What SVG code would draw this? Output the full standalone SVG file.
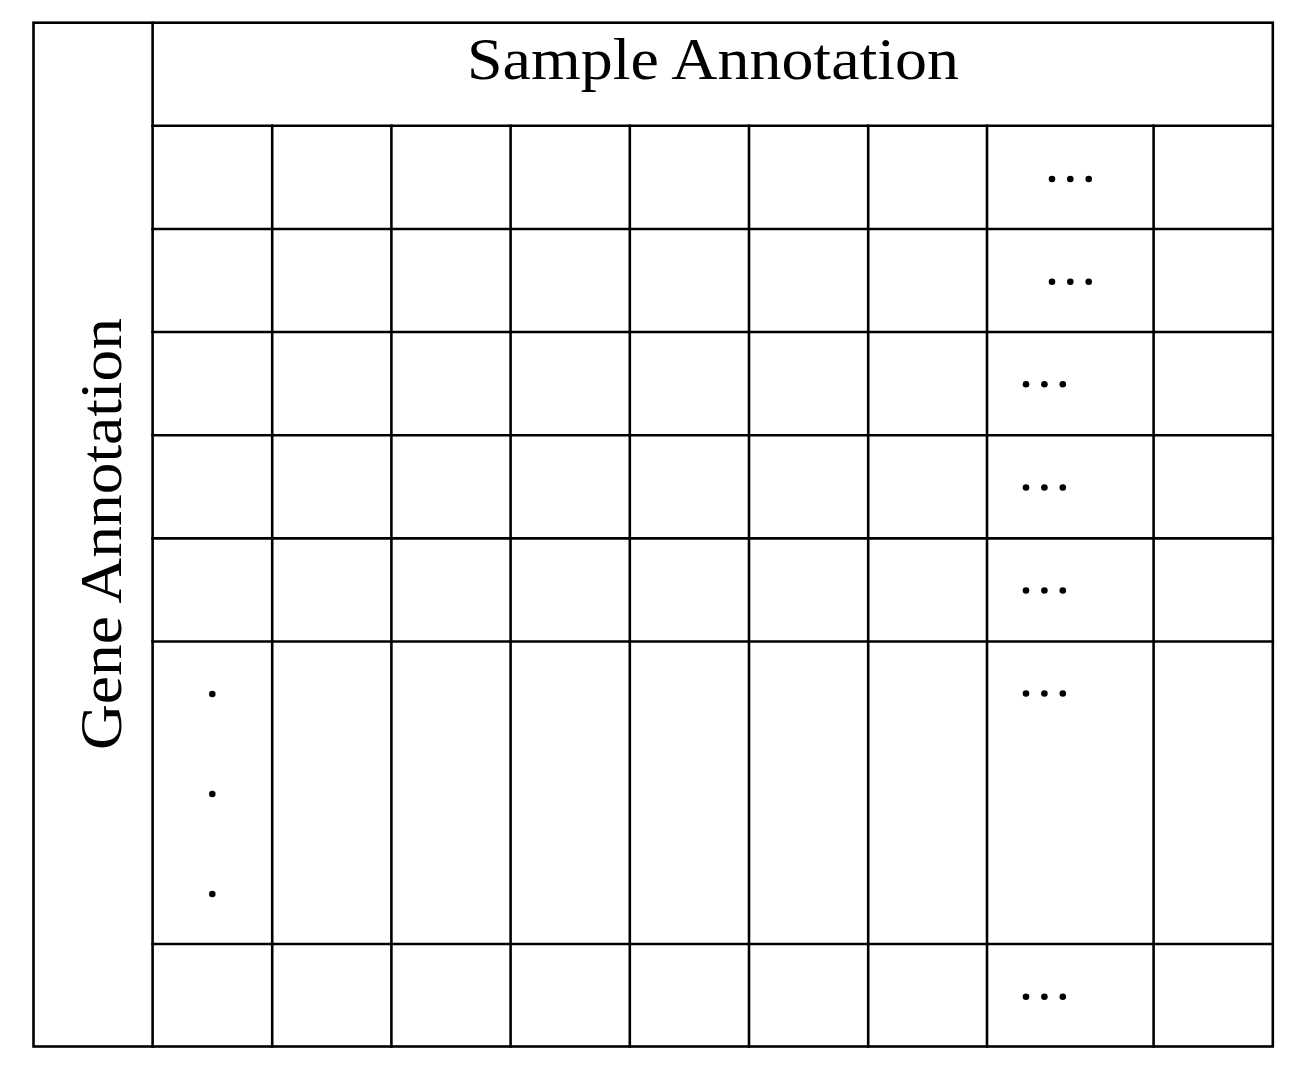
<svg xmlns="http://www.w3.org/2000/svg" width="1294" height="1069" viewBox="0 0 1294 1069">
<style>
.ln{stroke:#000;stroke-width:2.6;fill:none;stroke-linecap:square}
.lbl{font-family:"Liberation Serif","DejaVu Serif",serif;font-size:60px;fill:#000}
.dot{fill:#000}
</style>
<rect width="1294" height="1069" fill="#fff"/>
<g id="frame">
<rect class="ln" x="33.5" y="22.7" width="1239.3" height="1023.8"/>
</g>
<g id="gene-annotation">
<line class="ln" x1="152.6" y1="22.7" x2="152.6" y2="1046.5"/>
<text class="lbl" transform="translate(121,750) rotate(-90)" x="0" y="0" textLength="432" lengthAdjust="spacingAndGlyphs">Gene Annotation</text>
</g>
<g id="sample-annotation">
<line class="ln" x1="152.6" y1="125.7" x2="1272.8" y2="125.7"/>
<text class="lbl" x="467" y="79" textLength="492" lengthAdjust="spacingAndGlyphs">Sample Annotation</text>
</g>
<g id="grid">
<g class="ln">
<line x1="152.6" y1="229" x2="1272.8" y2="229"/>
<line x1="152.6" y1="332" x2="1272.8" y2="332"/>
<line x1="152.6" y1="435.2" x2="1272.8" y2="435.2"/>
<line x1="152.6" y1="538.4" x2="1272.8" y2="538.4"/>
<line x1="152.6" y1="641.5" x2="1272.8" y2="641.5"/>
<line x1="152.6" y1="944" x2="1272.8" y2="944"/>
<line x1="272.2" y1="125.7" x2="272.2" y2="1046.5"/>
<line x1="391.4" y1="125.7" x2="391.4" y2="1046.5"/>
<line x1="510.6" y1="125.7" x2="510.6" y2="1046.5"/>
<line x1="629.8" y1="125.7" x2="629.8" y2="1046.5"/>
<line x1="749" y1="125.7" x2="749" y2="1046.5"/>
<line x1="868.2" y1="125.7" x2="868.2" y2="1046.5"/>
<line x1="987" y1="125.7" x2="987" y2="1046.5"/>
<line x1="1153.6" y1="125.7" x2="1153.6" y2="1046.5"/>
</g>
</g>
<g id="ellipses">
<circle class="dot" cx="1052" cy="179" r="3.3"/><circle class="dot" cx="1070.3" cy="179" r="3.3"/><circle class="dot" cx="1088.7" cy="179" r="3.3"/>
<circle class="dot" cx="1052" cy="281.7" r="3.3"/><circle class="dot" cx="1070.3" cy="281.7" r="3.3"/><circle class="dot" cx="1088.7" cy="281.7" r="3.3"/>
<circle class="dot" cx="1026" cy="384.3" r="3.3"/><circle class="dot" cx="1044.4" cy="384.3" r="3.3"/><circle class="dot" cx="1062.8" cy="384.3" r="3.3"/>
<circle class="dot" cx="1026" cy="487.5" r="3.3"/><circle class="dot" cx="1044.4" cy="487.5" r="3.3"/><circle class="dot" cx="1062.8" cy="487.5" r="3.3"/>
<circle class="dot" cx="1026" cy="590.5" r="3.3"/><circle class="dot" cx="1044.4" cy="590.5" r="3.3"/><circle class="dot" cx="1062.8" cy="590.5" r="3.3"/>
<circle class="dot" cx="1026" cy="693.5" r="3.3"/><circle class="dot" cx="1044.4" cy="693.5" r="3.3"/><circle class="dot" cx="1062.8" cy="693.5" r="3.3"/>
<circle class="dot" cx="1026" cy="996.7" r="3.3"/><circle class="dot" cx="1044.4" cy="996.7" r="3.3"/><circle class="dot" cx="1062.8" cy="996.7" r="3.3"/>
<circle class="dot" cx="212.3" cy="694" r="3.3"/><circle class="dot" cx="212.3" cy="794" r="3.3"/><circle class="dot" cx="212.3" cy="894" r="3.3"/>
</g>
</svg>
